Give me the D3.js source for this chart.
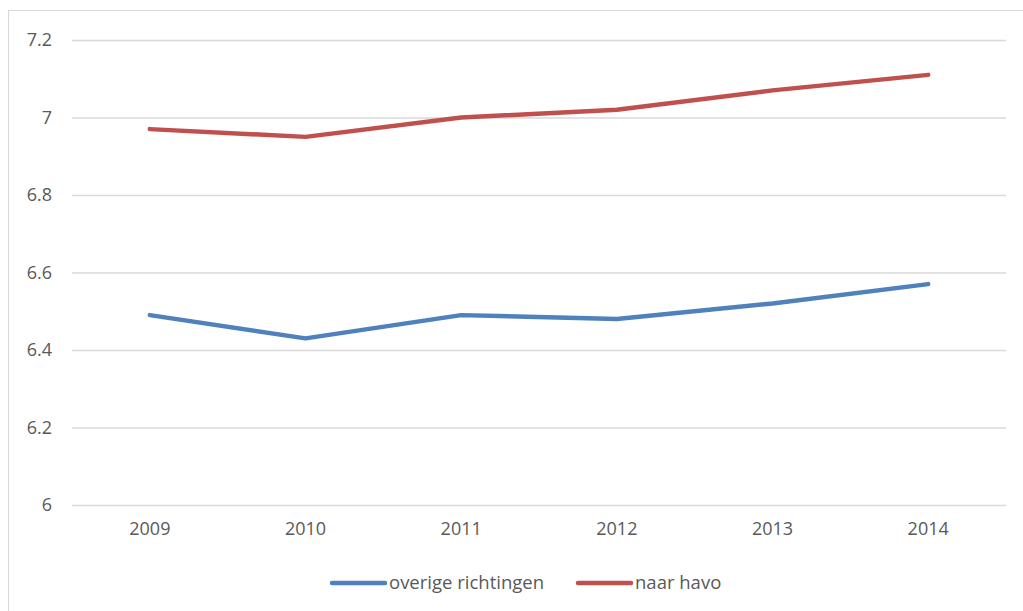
<!DOCTYPE html>
<html>
<head>
<meta charset="utf-8">
<script src="https://cdn.jsdelivr.net/npm/d3@7"></script>
<style>
  body { margin: 0; background: #fff; }
  text { font-family: "Open Sans", "Noto Sans", sans-serif; fill: #595959; }
</style>
</head>
<body>
<div id="chart"></div>
<script>
// data
const years = ["2009", "2010", "2011", "2012", "2013", "2014"];
const overige = [6.49, 6.43, 6.49, 6.48, 6.52, 6.57];
const havo = [6.97, 6.95, 7.0, 7.02, 7.07, 7.11];
const yTicks = [6, 6.2, 6.4, 6.6, 6.8, 7, 7.2];
const series = [
    {name: "overige richtingen", values: overige, color: "#4f81bd"},
    {name: "naar havo", values: havo, color: "#c0504d"}
];

let width = 1023, height = 611;
let margin = ({top: 40, right: 17, bottom: 106, left: 72});

let svg = d3.select("#chart").append("svg")
    .attr("width", width)
    .attr("height", height);

//chart frame
svg.append("rect")
    .attr("x", 8.5).attr("y", 10.5)
    .attr("width", 1100).attr("height", 700)
    .attr("fill", "none")
    .attr("stroke", "#d9d9d9")
    .attr("stroke-width", 1);

let x = d3.scaleBand()
    .domain(years)
    .range([margin.left, width - margin.right]);

let y = d3.scaleLinear()
    .domain([6, 7.2])
    .range([height - margin.bottom, margin.top]);

//gridlines + y labels
let yaxis = svg.append("g")
    .attr("transform", "translate(" + margin.left + ",0)")
    .call(d3.axisLeft(y).tickValues(yTicks)
        .tickSize(-(width - margin.left - margin.right))
        .tickPadding(20)
        .tickFormat(d => d3.format("")(+d.toFixed(1))));
yaxis.select(".domain").remove();
yaxis.selectAll(".tick line").attr("stroke", "#d9d9d9").attr("stroke-width", 1.3);
yaxis.selectAll(".tick text").style("font-size", "18px").attr("fill", "#595959");

//x labels
let xaxis = svg.append("g")
    .attr("transform", "translate(0," + (height - margin.bottom) + ")")
    .call(d3.axisBottom(x).tickSize(0).tickPadding(17));
xaxis.select(".domain").remove();
xaxis.selectAll(".tick text").style("font-size", "18px").attr("fill", "#595959");

let line = d3.line()
    .x((d, i) => x(years[i]) + x.bandwidth() / 2)
    .y(d => y(d));

svg.selectAll(".series")
    .data(series)
    .enter().append("path")
        .attr("class", "series")
        .attr("d", d => line(d.values))
        .attr("fill", "none")
        .attr("stroke", d => d.color)
        .attr("stroke-width", 4.5)
        .attr("stroke-linecap", "round")
        .attr("stroke-linejoin", "round");

//legend
let legendX = [330, 576];
let legend = svg.selectAll(".legend")
    .data(series)
    .enter().append("g")
        .attr("class", "legend")
        .attr("transform", (d, i) => "translate(" + legendX[i] + ",583)");
legend.append("line")
    .attr("x1", 2).attr("x2", 55)
    .attr("stroke", d => d.color)
    .attr("stroke-width", 4.5)
    .attr("stroke-linecap", "round");
legend.append("text")
    .attr("x", 59)
    .attr("dy", "0.35em")
    .style("font-size", "18.5px")
    .text(d => d.name);
</script>
</body>
</html>
